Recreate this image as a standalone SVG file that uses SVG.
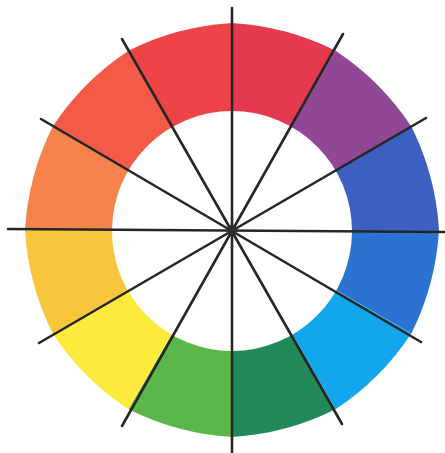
<svg xmlns="http://www.w3.org/2000/svg" width="445" height="453" viewBox="0 0 445 453">
<style>
.spoke{stroke:#262626;stroke-width:2.6;stroke-linecap:round;fill:none}
</style>
<rect width="445" height="453" fill="#ffffff"/>
<g id="ring">
<path d="M232,230 L232,23 Q286.6,26.2 335.5,50.7 Z" fill="#e5394f"/>
<path d="M232,230 L335.5,50.7 Q381.2,80.8 411.3,126.5 Z" fill="#8f4796"/>
<path d="M232,230 L411.3,126.5 Q435.8,175.4 439,230 Z" fill="#3d5fbf"/>
<path d="M232,230 L439,230 Q435.8,284.6 411.3,333.5 Z" fill="#2b72d2"/>
<path d="M232,230 L411.3,333.5 Q381.2,379.2 335.5,409.3 Z" fill="#12a6ec"/>
<path d="M232,230 L335.5,409.3 Q286.6,433.8 232,437 Z" fill="#21895a"/>
<path d="M232,230 L232,437 Q177.4,433.8 128.5,409.3 Z" fill="#5cb74a"/>
<path d="M232,230 L128.5,409.3 Q82.8,379.2 52.7,333.5 Z" fill="#fdea3d"/>
<path d="M232,230 L52.7,333.5 Q28.2,284.6 25,230 Z" fill="#f8c63c"/>
<path d="M232,230 L25,230 Q28.2,175.4 52.7,126.5 Z" fill="#f5834b"/>
<path d="M232,230 L52.7,126.5 Q82.8,80.8 128.5,50.7 Z" fill="#f45a48"/>
<path d="M232,230 L128.5,50.7 Q177.4,26.2 232,23 Z" fill="#ef4447"/>
<circle cx="232" cy="231" r="120" fill="#ffffff"/>
</g>
<g id="spokes">
<line class="spoke" x1="232" y1="8" x2="232" y2="452"/>
<line class="spoke" x1="8" y1="229" x2="445" y2="232"/>
<line class="spoke" x1="122" y1="39" x2="342" y2="424"/>
<line class="spoke" x1="343" y1="34" x2="122" y2="426"/>
<line class="spoke" x1="41" y1="119" x2="421" y2="342"/>
<line class="spoke" x1="426" y1="118" x2="39" y2="343"/>
<circle cx="232" cy="230" r="5" fill="#2a2f2c"/>
</g>
</svg>
